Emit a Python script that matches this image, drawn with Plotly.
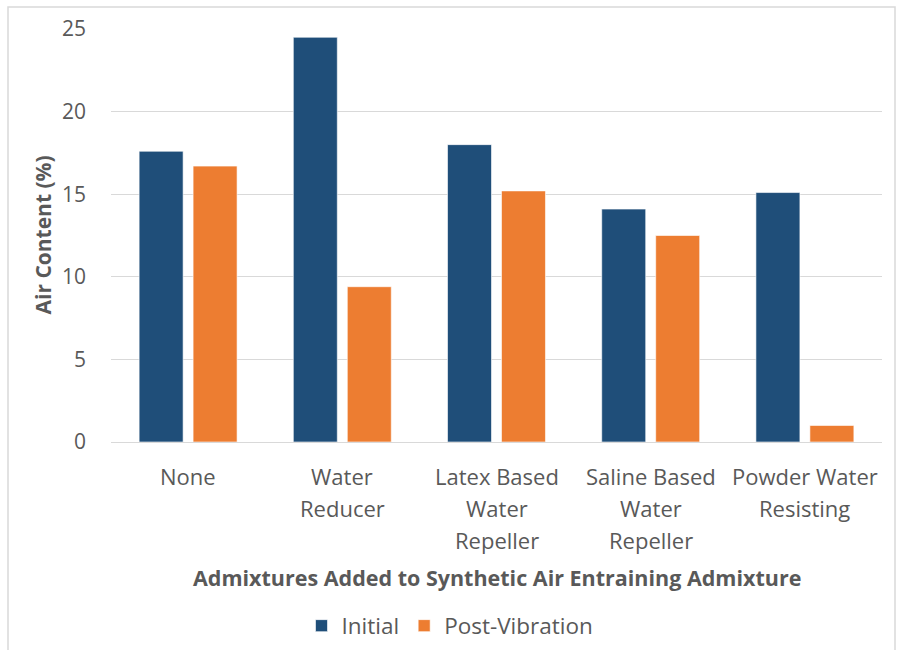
import plotly.graph_objects as go

# Air content of mixes with different admixtures, before and after vibration
categories = [
    "None",
    "Water<br>Reducer",
    "Latex Based<br>Water<br>Repeller",
    "Saline Based<br>Water<br>Repeller",
    "Powder Water<br>Resisting",
]
initial = [17.6, 24.5, 18.0, 14.1, 15.1]
post_vibration = [16.7, 9.4, 15.2, 12.5, 1.0]
y_ticks = [0, 5, 10, 15, 20, 25]

FONT = "Open Sans, sans-serif"
GREY = "#595959"
BLUE = "#1F4E79"
ORANGE = "#ED7D31"

# pixel geometry of the plotting area
L, R, T, B = 111, 19, 29, 208
W, H = 901, 650
plot_w = W - L - R
plot_h = H - T - B

fig = go.Figure()
fig.add_trace(go.Bar(
    x=list(range(len(categories))), y=initial, name="Initial",
    marker=dict(color=BLUE, line=dict(color="rgba(255,255,255,0.6)", width=1)),
))
fig.add_trace(go.Bar(
    x=list(range(len(categories))), y=post_vibration, name="Post-Vibration",
    marker=dict(color=ORANGE, line=dict(color="rgba(255,255,255,0.6)", width=1)),
))

# category labels, one annotation per line for Excel-like line spacing
line_step = 32
for i, label in enumerate(categories):
    for j, part in enumerate(label.split("<br>")):
        fig.add_annotation(
            x=i, xref="x", y=0, yref="paper", yanchor="middle",
            yshift=-(34 + j * line_step), text=part, showarrow=False,
            font=dict(family=FONT, size=22, color=GREY),
        )

# axis titles
fig.add_annotation(
    x=0.5, xref="paper", y=0, yref="paper", yanchor="middle", yshift=-135,
    text="<b>Admixtures Added to Synthetic Air Entraining Admixture</b>",
    showarrow=False, font=dict(family=FONT, size=21.5, color=GREY),
)
fig.add_annotation(
    x=0, xref="paper", xanchor="center", xshift=-69, y=0.5, yref="paper",
    text="<b>Air Content (%)</b>", textangle=-90, showarrow=False,
    font=dict(family=FONT, size=21, color=GREY),
)

# chart border
fig.add_shape(
    type="rect", xref="paper", yref="paper",
    x0=(8 - L) / plot_w, x1=(895 - L) / plot_w,
    y0=-(H + 5 - (T + plot_h)) / plot_h, y1=(T + plot_h - 7) / plot_h,
    line=dict(color="#d9d9d9", width=1.5), fillcolor="rgba(0,0,0,0)", layer="below",
)

fig.update_layout(
    width=W, height=H,
    margin=dict(l=L, r=R, t=T, b=B, autoexpand=False),
    paper_bgcolor="white", plot_bgcolor="white",
    barmode="group", bargap=0.3, bargroupgap=0.185,
    font=dict(family=FONT, size=20, color=GREY),
    showlegend=True,
    legend=dict(
        orientation="h", x=(450 - L) / plot_w, xanchor="center",
        y=-(626 - (T + plot_h)) / plot_h, yanchor="middle",
        font=dict(family=FONT, size=22.5, color=GREY),
        itemwidth=30, traceorder="normal",
    ),
    xaxis=dict(
        range=[-0.5, len(categories) - 0.5], showticklabels=False,
        showgrid=False, zeroline=False, showline=False, fixedrange=True,
    ),
    yaxis=dict(
        range=[0, 25], tickvals=y_ticks, ticktext=[str(v) for v in y_ticks],
        showgrid=True, gridcolor="#d9d9d9", gridwidth=1,
        zeroline=True, zerolinecolor="#d9d9d9", zerolinewidth=1,
        showline=False, ticklabelstandoff=24,
        tickfont=dict(family=FONT, size=21, color=GREY),
    ),
)

fig.write_html("out.html")
